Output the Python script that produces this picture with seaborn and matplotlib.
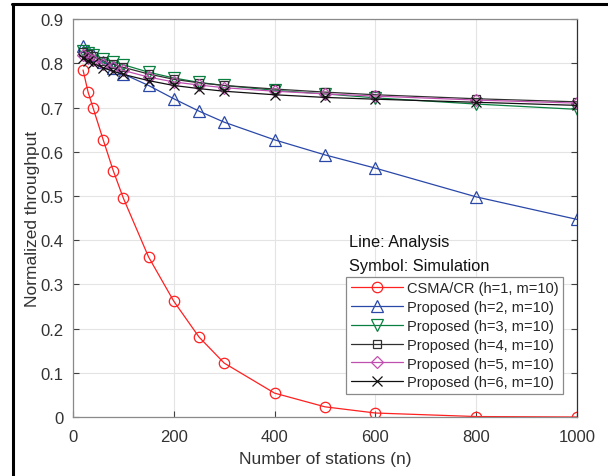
import numpy as np
import pandas as pd
import matplotlib
matplotlib.use("Agg")
import matplotlib.pyplot as plt
import seaborn as sns
from matplotlib.lines import Line2D
from matplotlib.ticker import FuncFormatter

# ---- data ----
stations = [20, 30, 40, 60, 80, 100, 150, 200, 250, 300, 400, 500, 600, 800, 1000]
csma_h1 = [0.785, 0.735, 0.699, 0.627, 0.557, 0.495, 0.362, 0.262, 0.181, 0.122,
           0.054, 0.023, 0.009, 0.001, 0.000]
prop_h2 = [0.840, 0.828, 0.818, 0.803, 0.790, 0.776, 0.750, 0.720, 0.692, 0.667,
           0.627, 0.593, 0.563, 0.498, 0.447]
prop_h3 = [0.828, 0.823, 0.819, 0.811, 0.804, 0.797, 0.780, 0.767, 0.757, 0.750,
           0.739, 0.731, 0.722, 0.708, 0.696]
prop_h4 = [0.826, 0.821, 0.816, 0.806, 0.798, 0.791, 0.776, 0.764, 0.756, 0.750,
           0.742, 0.735, 0.729, 0.720, 0.713]
prop_h5 = [0.818, 0.813, 0.808, 0.798, 0.791, 0.784, 0.769, 0.758, 0.751, 0.745,
           0.737, 0.731, 0.726, 0.717, 0.710]
prop_h6 = [0.812, 0.806, 0.800, 0.790, 0.782, 0.775, 0.761, 0.750, 0.743, 0.737,
           0.729, 0.723, 0.719, 0.712, 0.705]

labels = ["CSMA/CR (h=1, m=10)", "Proposed (h=2, m=10)", "Proposed (h=3, m=10)",
          "Proposed (h=4, m=10)", "Proposed (h=5, m=10)", "Proposed (h=6, m=10)"]
series = [csma_h1, prop_h2, prop_h3, prop_h4, prop_h5, prop_h6]
colors = ["#ff2020", "#2a48a8", "#0a8040", "#303030", "#c050b0", "#101010"]
markers = ["o", "^", "v", "s", "D", "x"]
msizes = [7.5, 8, 8, 6, 6, 7]

sns.set_theme(style="white")
plt.rcParams["font.family"] = ["Liberation Sans", "DejaVu Sans"]

fig = plt.figure(figsize=(6.08, 4.77), dpi=100)
ax = fig.add_axes([0.120, 0.1237, 0.829, 0.834])

handles = []
for lab, vals, c, m, ms in zip(labels, series, colors, markers, msizes):
    df = pd.DataFrame({"n": stations, "thr": vals})
    sns.lineplot(data=df, x="n", y="thr", ax=ax, color=c, linewidth=0.9,
                 marker=m, markersize=ms, markerfacecolor="none",
                 markeredgecolor=c, markeredgewidth=0.9, legend=False)
    handles.append(Line2D([0], [0], color=c, linewidth=0.9, marker=m,
                          markersize=ms, markerfacecolor="none",
                          markeredgecolor=c, markeredgewidth=0.9, label=lab))

ax.set_xlim(0, 1000)
ax.set_ylim(0, 0.9)
ax.set_xticks(np.arange(0, 1001, 200))
ax.set_yticks(np.round(np.arange(0, 0.91, 0.1), 1))
ax.yaxis.set_major_formatter(FuncFormatter(lambda v, p: "0" if abs(v) < 1e-9 else f"{v:.1f}"))
ax.grid(True, color="#e4e4e4", linewidth=0.8)
ax.set_axisbelow(True)
ax.tick_params(direction="in", length=4, width=0.8, colors="#404040",
               labelsize=12, labelcolor="#333333", left=True, bottom=True,
               top=False, right=True)
ax.tick_params(axis="x", pad=9)
ax.tick_params(axis="y", pad=7)
for s in ["left", "bottom", "top"]:
    ax.spines[s].set_color("#8a8a8a")
    ax.spines[s].set_linewidth(0.9)
ax.spines["right"].set_color("#303030")
ax.spines["right"].set_linewidth(0.9)

ax.set_xlabel("Number of stations (n)", fontsize=12.5, color="#333333", labelpad=5)
ax.set_ylabel("Normalized throughput", fontsize=12.5, color="#333333", labelpad=0)

ax.text(0.548, 0.442, "Line: Analysis", transform=ax.transAxes, fontsize=11.8,
        va="center", ha="left", color="#111111")
ax.text(0.548, 0.382, "Symbol: Simulation", transform=ax.transAxes, fontsize=11.8,
        va="center", ha="left", color="#111111")

leg = ax.legend(handles=handles, loc="upper left", bbox_to_anchor=(0.542, 0.352),
                borderaxespad=0, fontsize=10.5, frameon=True, fancybox=False,
                handlelength=3.6, handletextpad=0.3, labelspacing=0.33,
                borderpad=0.3)
leg.get_frame().set_edgecolor("#8a8a8a")
leg.get_frame().set_linewidth(0.9)
leg.get_frame().set_alpha(1)

# black border lines of the original figure crop
fig.add_artist(Line2D([0.021, 0.021], [0.0, 0.989], transform=fig.transFigure,
                      color="black", linewidth=2.2))
fig.add_artist(Line2D([0.019, 1.0], [0.989, 0.989], transform=fig.transFigure,
                      color="black", linewidth=2.2))

fig.savefig("out.png", dpi=100)
